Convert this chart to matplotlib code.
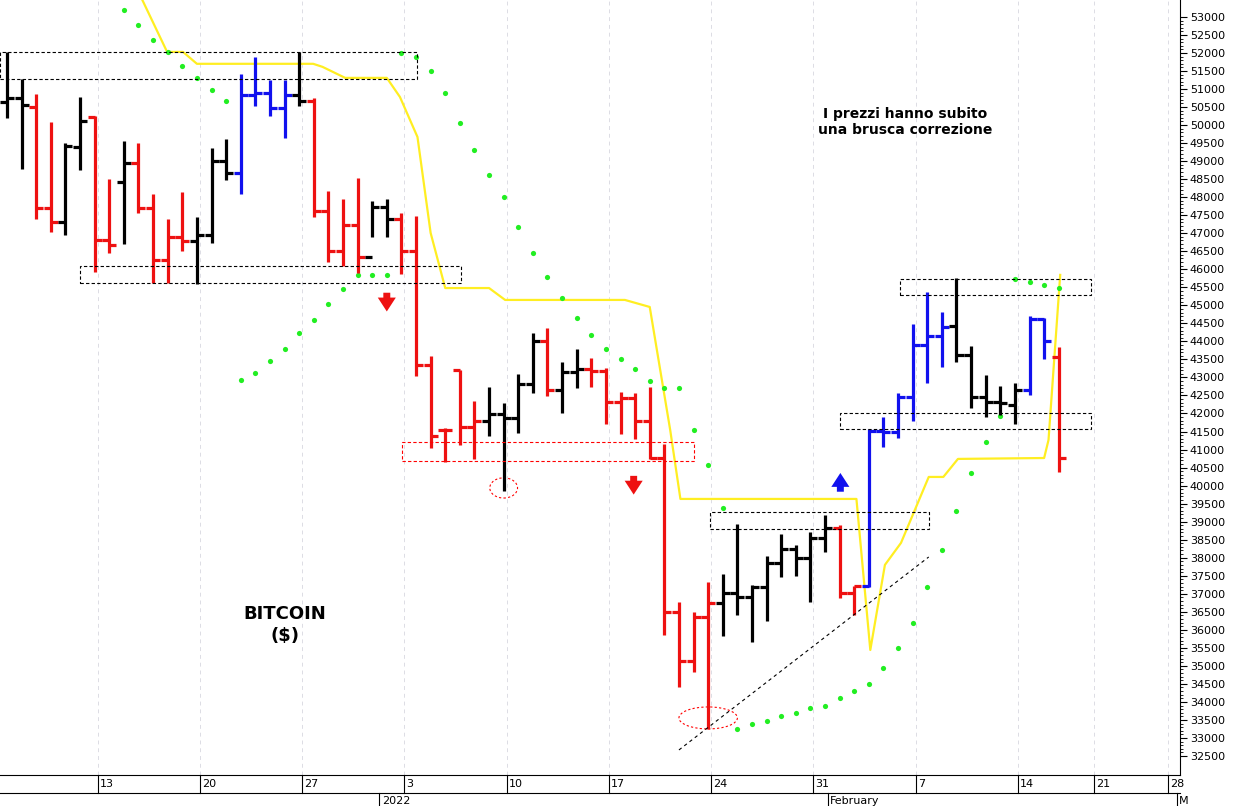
import numpy as np
import matplotlib
matplotlib.use("Agg")
import matplotlib.pyplot as plt
from matplotlib.patches import Rectangle, Ellipse
from matplotlib.transforms import blended_transform_factory

# barre giornaliere dal 7 dic 2021 (indice 0) al 17 feb 2022 (indice 72)
opens = [50650, 50745, 50510, 47695, 47305, 49400, 50235, 46815, 48430, 48940,
         47695, 46260, 46905, 46780, 46950, 49005, 48665, 50835, 50900, 50465,
         50835, 50670, 47625, 46515, 47230, 46350, 47740, 47390, 46510, 43345,
         41545, 43210, 41625, 41795, 41985, 41875, 42820, 44010, 42655, 43150,
         43235, 43180, 42320, 42430, 41795, 40765, 36505, 35135, 36350, 36735,
         37015, 36920, 37195, 37845, 38240, 38000, 38540, 38815, 37015, 37215,
         41525, 41495, 42470, 43900, 44150, 44435, 43625, 42470, 42330, 42235,
         42655, 44615, 43560]
highs = [52020, 51270, 50855, 50080, 49515, 50790, 50260, 48500, 49560, 49495,
         48080, 47390, 48155, 47460, 49375, 49610, 51410, 51880, 51250, 51250,
         52020, 50745, 48180, 47945, 48525, 47905, 47945, 47570, 47490, 43595,
         41600, 43210, 42350, 42735, 42290, 43095, 44235, 44375, 43430, 43790,
         43540, 43265, 42600, 42570, 42735, 41155, 36780, 36505, 37335, 37540,
         38930, 37245, 38050, 38660, 38355, 38720, 39185, 38910, 37215, 41565,
         41910, 42580, 44485, 45380, 44810, 45750, 43875, 43070, 42765, 42855,
         44705, 44640, 43835]
lows = [50190, 48775, 47390, 47030, 46950, 48755, 45920, 46445, 46705, 47555,
        45630, 45615, 46515, 45585, 46720, 48480, 48090, 50530, 50255, 49635,
        50530, 47445, 46210, 46095, 45890, 46890, 46890, 45870, 43040, 41045,
        40655, 41125, 40740, 41375, 39850, 41460, 42570, 42485, 42015, 42710,
        42735, 41710, 41430, 41295, 40740, 35855, 34425, 34840, 33250, 35830,
        36410, 35670, 36245, 37475, 37495, 36780, 38165, 36875, 36410, 37195,
        41080, 41315, 41800, 42855, 43285, 43440, 42145, 41910, 41960, 41710,
        42515, 43505, 40385]
closes = [50745, 50560, 47695, 47305, 49420, 50125, 46815, 46675, 48940, 47695,
          46260, 46905, 46780, 46950, 49005, 48665, 50835, 50900, 50465, 50835,
          50670, 47625, 46515, 47230, 46350, 47740, 47390, 46510, 43345, 41375,
          41545, 41625, 41795, 41985, 41875, 42820, 44010, 42655, 43150, 43235,
          43180, 42320, 42430, 41795, 40765, 36505, 35135, 36350, 36735, 37015,
          36920, 37195, 37845, 38240, 38000, 38540, 38815, 37015, 37215, 41525,
          41495, 42470, 43900, 44150, 44390, 43625, 42470, 42330, 42285, 42655,
          44615, 44020, 40760]
bar_colors = list("kkrrkkrrkrrrrkkkbbbbkrrrrkkrrrrrrkkkkrkkrrrrrrrrrkkkkkkkkrrbbbbbbkkkkkbbr")

# parabolic SAR (indice barra, prezzo)
sar_idx = list(range(8, 73))
sar_val = [53195, 52780, 52360, 52030, 51640, 51310, 50975, 50670,
           42930, 43125, 43460, 43790, 44235, 44595, 45040, 45455, 45845, 45845, 45845,
           51995, 51890, 51510, 50890, 50060, 49310, 48615, 48005, 47175, 46455,
           45790, 45205, 44650, 44180, 43790, 43515, 43235, 42905, 42710, 42710,
           41545, 40575, 39380,
           33250, 33390, 33470, 33610, 33695, 33830, 33890, 34110, 34300, 34495,
           34940, 35495, 36190, 37190, 38215, 39295, 40350, 41210, 41930,
           45730, 45650, 45565, 45480]

# linea gialla
stop_x = [9.1, 10.96, 12.05, 13.0, 20.96, 21.6, 23.15, 26.0, 26.9, 28.1, 29.0, 30.0,
          33.0, 34.1, 42.3, 44.0, 45.4, 46.1, 58.15, 59.1, 60.1, 61.2, 63.1, 64.1,
          65.1, 71.0, 71.3, 72.1]
stop_y = [53610, 52030, 52030, 51700, 51700, 51615, 51310, 51310, 50780, 49670, 47010,
          45480, 45480, 45150, 45150, 44955, 41545, 39630, 39630, 35440, 37800, 38410,
          40240, 40240, 40740, 40765, 41265, 45845]

# zone tratteggiate (x0, x1, prezzo basso, prezzo alto)
zones = [(-0.5, 28.1, 51280, 52030, "black"), (5.0, 31.1, 45620, 46095, "black"),
         (27.05, 47.0, 40680, 41210, "red"), (48.1, 63.1, 38800, 39270, "black"),
         (61.1, 74.2, 45290, 45730, "black"), (57.05, 74.2, 41570, 42015, "black")]

# frecce (x, prezzo punta, direzione, colore)
arrows = [(26.0, 44830, -1, "#ee1111"), (42.9, 39750, -1, "#ee1111"),
          (57.05, 40350, 1, "#1111ee")]

tick_pos = [6.2, 13.2, 20.2, 27.2, 34.2, 41.2, 48.2, 55.2, 62.2, 69.2, 74.4, 79.5]
tick_lab = ["13", "20", "27", "3", "10", "17", "24", "31", "7", "14", "21", "28"]

fig = plt.figure(figsize=(12.33, 8.06), dpi=100)
ax = fig.add_axes([0, 0.0385, 0.957, 0.9615])
ax.set_xlim(-0.48, 80.3)
ax.set_ylim(31973, 53470)

for x in tick_pos:
    ax.axvline(x, color="#dcdce4", lw=0.7, ls=(0, (4, 4)), zorder=0)

ax.plot(stop_x, stop_y, color="#ffee22", lw=1.6, zorder=2)
ax.scatter(sar_idx, sar_val, s=14, color="#22ee22", zorder=3, linewidths=0)

for i in range(len(opens)):
    c = {"k": "black", "r": "#ee1111", "b": "#1111ee"}[bar_colors[i]]
    ax.vlines(i, lows[i], highs[i], color=c, lw=2.3, zorder=4)
    ax.hlines(opens[i], i - 0.48, i, color=c, lw=2.3, zorder=4)
    ax.hlines(closes[i], i, i + 0.48, color=c, lw=2.3, zorder=4)

for x0, x1, lo, hi, col in zones:
    ax.add_patch(Rectangle((x0, lo), x1 - x0, hi - lo, fill=False, ec=col,
                           lw=0.8, ls=(0, (3, 2)), zorder=5))
ax.plot([46.0, 63.1], [32667, 38020], color="black", lw=0.8, ls=(0, (3, 3)), zorder=5)
ax.add_patch(Ellipse((34.0, 39935), 1.9, 560, fill=False, ec="red", lw=0.8, ls=(0, (2, 2))))
ax.add_patch(Ellipse((48.0, 33555), 4.0, 610, fill=False, ec="red", lw=0.8, ls=(0, (2, 2))))

for x, tip, d, col in arrows:
    ax.annotate("", xy=(x, tip), xytext=(x, tip - d * 520),
                arrowprops=dict(arrowstyle="simple,head_width=1.3,head_length=1.0,tail_width=0.5",
                                color=col, lw=0, shrinkA=0, shrinkB=0), zorder=6)

ax.text(61.5, 50090, "I prezzi hanno subito\nuna brusca correzione", ha="center", va="center",
        fontsize=10, fontweight="bold", family="DejaVu Sans")
ax.text(19.0, 36135, "BITCOIN\n($)", ha="center", va="center", fontsize=13,
        fontweight="bold", family="DejaVu Sans", linespacing=1.3)

# asse destro
ax.yaxis.tick_right()
ax.set_yticks(np.arange(32500, 53001, 500))
ax.set_yticks(np.arange(32500, 53001, 100), minor=True)
ax.tick_params(axis="y", which="major", length=5, labelsize=8, pad=2)
ax.tick_params(axis="y", which="minor", length=2)
ax.set_xticks([])
for s in ["top", "left"]:
    ax.spines[s].set_visible(False)

# asse delle date in stile tabella
tr = blended_transform_factory(ax.transData, fig.transFigure)
for x, lab in zip(tick_pos, tick_lab):
    ax.plot([x, x], [0.0385, 0.016], transform=tr, color="black", lw=0.8, clip_on=False)
    ax.text(x + 0.15, 0.027, lab, transform=tr, fontsize=8, va="center", ha="left")
fig.add_artist(plt.Line2D([0, 0.957], [0.016, 0.016], color="black", lw=0.8))
for x, lab in [(25.5, "2022"), (56.2, "February"), (80.1, "M")]:
    ax.plot([x, x], [0.016, 0.0], transform=tr, color="black", lw=0.8, clip_on=False)
    ax.text(x + 0.15, 0.006, lab, transform=tr, fontsize=8, va="center", ha="left", clip_on=False)

fig.savefig("out.png", dpi=100)
